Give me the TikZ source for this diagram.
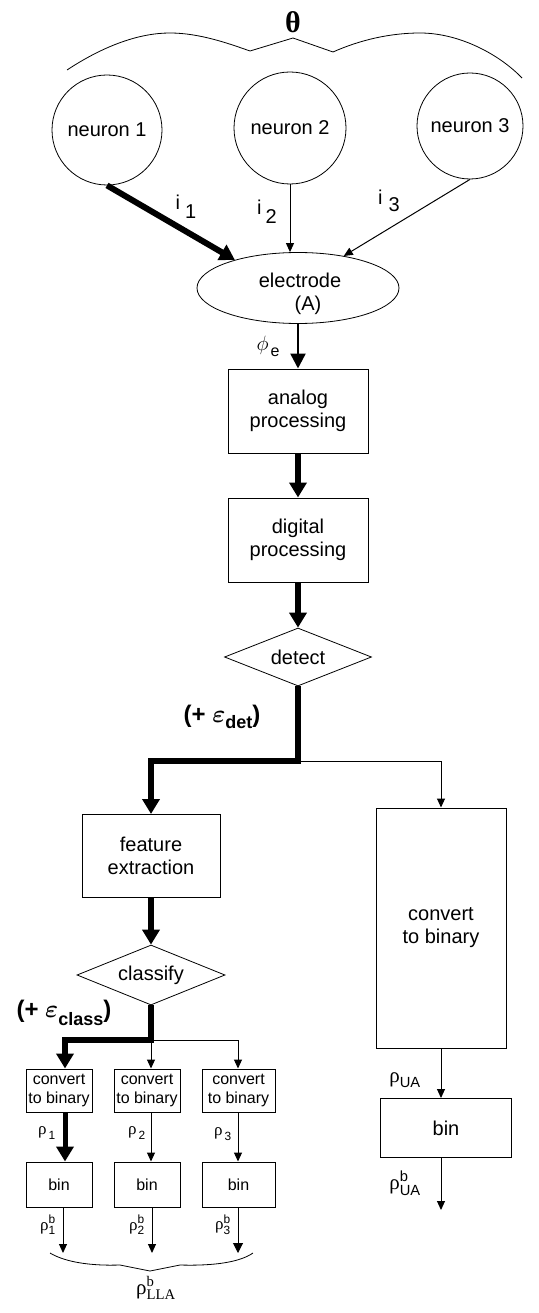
\documentclass[tikz,border=0pt]{standalone}
\usepackage{amsmath}
\usepackage{fontspec}
\setmainfont{Liberation Sans}
\newfontfamily\greekserif{Liberation Serif}
\usetikzlibrary{arrows.meta,shapes.geometric}

\newcommand{\fsz}[1]{\fontsize{#1}{#1}\selectfont}
\newcommand{\rh}{\text{\greekserif ρ}}

\begin{document}
\begin{tikzpicture}[x=1pt,y=-1pt,
  every node/.style={inner sep=0pt, align=center},
  txt/.style={font=\fontsize{20}{23}\selectfont},
  sfont/.style={font=\fontsize{16}{19}\selectfont},
  neuron/.style={draw, circle, line width=0.8pt, txt},
  box/.style={draw, rectangle, line width=1pt, txt},
  sbox/.style={draw, rectangle, line width=1pt, sfont},
  decision/.style={draw, diamond, aspect=2.5, line width=0.8pt, txt},
  wire/.style={line width=1pt},
  wirearrow/.style={line width=1pt, -{Triangle[length=9pt,width=8pt]}},
  midarrow/.style={line width=2.5pt, -{Triangle[length=15pt,width=15pt]}},
  boldarrow/.style={line width=6pt, line join=miter, -{Triangle[length=15pt,width=17pt]}},
  brace/.style={line width=0.8pt}
]
\useasboundingbox (0,0) rectangle (538,1313);

% parameter set
\node[font=\greekserif\bfseries\fsz{30}] (theta) at (293,22) {θ};
\draw[brace] (67,70) .. controls (105,45) and (140,33) .. (170,33)
  .. controls (200,33) and (230,44) .. (250,51) -- (293,38) -- (333,52)
  .. controls (360,40) and (390,33) .. (420,33)
  .. controls (460,33) and (500,55) .. (522,78);

% neurons and electrode
\node[neuron, minimum size=110pt] (n1) at (107,130) {neuron 1};
\node[neuron, minimum size=112pt] (n2) at (290,128) {neuron 2};
\node[neuron, minimum size=106pt] (n3) at (470,126) {neuron 3};
\node[draw, ellipse, line width=0.8pt, minimum width=202pt, minimum height=71pt] (el) at (298,288) {};
\node[txt] (elt) at (300,294) {electrode\\\hspace*{16pt}(A)};

% processing chain
\node[box, minimum width=140pt, minimum height=84pt] (ana) at (298,411) {analog\\processing};
\node[box, minimum width=140pt, minimum height=84pt] (dig) at (298,540) {digital\\processing};
\node[decision, minimum width=147pt, minimum height=58pt] (det) at (298,657) {detect};
\node[box, minimum width=138pt, minimum height=83pt] (feat) at (151,856) {feature\\extraction};
\node[decision, minimum width=148pt, minimum height=60pt] (cls) at (151,975) {classify};
\node[box, minimum width=130pt, minimum height=240pt] (cbig) at (441,928) {convert\\to binary};
\node[box, minimum width=131pt, minimum height=59pt] (binua) at (446,1128) {bin};

% per-unit conversion
\node[sbox, minimum width=66pt, minimum height=43pt] (c1) at (59,1090.5) {convert\\to binary};
\node[sbox, minimum width=66pt, minimum height=43pt] (c2) at (147,1090.5) {convert\\to binary};
\node[sbox, minimum width=73pt, minimum height=43pt] (c3) at (238.5,1090.5) {convert\\to binary};
\node[sbox, minimum width=66pt, minimum height=45pt] (b1) at (59,1184.5) {bin};
\node[sbox, minimum width=66pt, minimum height=45pt] (b2) at (147,1184.5) {bin};
\node[sbox, minimum width=73pt, minimum height=45pt] (b3) at (238.5,1184.5) {bin};

% junctions and free ends
\coordinate (s1) at (298,761);
\coordinate (s2) at (151,1040);
\coordinate (j1) at (65,1040);
\coordinate (j3) at (238,1040);
\coordinate (o1) at (63,1253);
\coordinate (o2) at (152,1253);
\coordinate (o3) at (238,1253);
\coordinate (oua) at (441,1210);

% connectors
\draw[boldarrow] (n1.south) -- (el.156);
\draw[wirearrow] (n2.south) -- (n2.south |- el.north);
\draw[wirearrow] (n3.south) -- (el.35);
\draw[midarrow] (el.south) -- (ana.north);
\draw[boldarrow] (ana.south) -- (dig.north);
\draw[boldarrow] (dig.south) -- (det.north);
\draw[wirearrow] (s1) -| (cbig.north);
\draw[boldarrow] (det.south) -- (s1) -| (feat.north);
\draw[boldarrow] (feat.south) -- (cls.north);
\draw[wire] (s2) -- (j3);
\draw[wirearrow] (s2) -- (s2 |- c2.north);
\draw[wirearrow] (j3) -- (j3 |- c3.north);
\draw[boldarrow] (cls.south) |- (j1) -- (j1 |- c1.north);
\draw[boldarrow, line width=5pt] (c1.south -| j1) -- (b1.north -| j1);
\draw[wirearrow] (c2.south -| s2) -- (b2.north -| s2);
\draw[wirearrow] (c3.south -| j3) -- (b3.north -| j3);
\draw[wirearrow] (b1.south -| o1) -- (o1);
\draw[wirearrow] (b2.south -| o2) -- (o2);
\draw[wirearrow, -{Triangle[length=10pt,width=10pt]}] (b3.south -| o3) -- (o3);
\draw[wirearrow] (cbig.south) -- (cbig.south |- binua.north);
\draw[wirearrow] (binua.south -| oua) -- (oua);

% connector labels
\node[txt] (li1) at (186,207) {i\kern5pt\raisebox{-9pt}{1}};
\node[txt] (li2) at (267,212) {i\kern4pt\raisebox{-9pt}{2}};
\node[txt] (li3) at (389,201) {i\kern6pt\raisebox{-7pt}{3}};
\node[txt] (lphi) at (268,346) {$\phi$\kern2pt\raisebox{-6pt}{\fsz{16}e}};
\node[font=\bfseries\fsz{24}] (edet) at (222,717) {(+ {\boldmath$\varepsilon$}\raisebox{-6pt}{\fsz{18}det})};
\node[font=\bfseries\fsz{24}] (ecls) at (64,1013) {(+ {\boldmath$\varepsilon$}\raisebox{-8pt}{\fsz{18}class})};
\node[font=\fsz{17}] (r1) at (47,1133) {$\rh_{\,\text{1}}$};
\node[font=\fsz{17}] (r2) at (137,1133) {$\rh_{\,\text{2}}$};
\node[font=\fsz{17}] (r3) at (223,1134) {$\rh_{\,\text{3}}$};
\node[font=\fsz{17}] (rb1) at (48,1225) {$\rh^{\text{b}}_{\text{1}}$};
\node[font=\fsz{17}] (rb2) at (137,1225) {$\rh^{\text{b}}_{\text{2}}$};
\node[font=\fsz{17}] (rb3) at (223,1225) {$\rh^{\text{b}}_{\text{3}}$};
\node[font=\fsz{21}] (rua) at (405,1080) {$\rh_{\text{UA}}$};
\node[font=\fsz{21}] (rbua) at (405,1183) {$\rh^{\text{b}}_{\text{UA}}$};

% combined output
\draw[brace] (50,1253) .. controls (65,1262) and (90,1266) .. (120,1265)
  -- (150,1271) -- (180,1265) .. controls (215,1266) and (240,1262) .. (253,1253);
\node[font=\greekserif\fsz{21}] (rlla) at (156,1288) {$\rh^{\text{b}}_{\text{LLA}}$};
\end{tikzpicture}
\end{document}
